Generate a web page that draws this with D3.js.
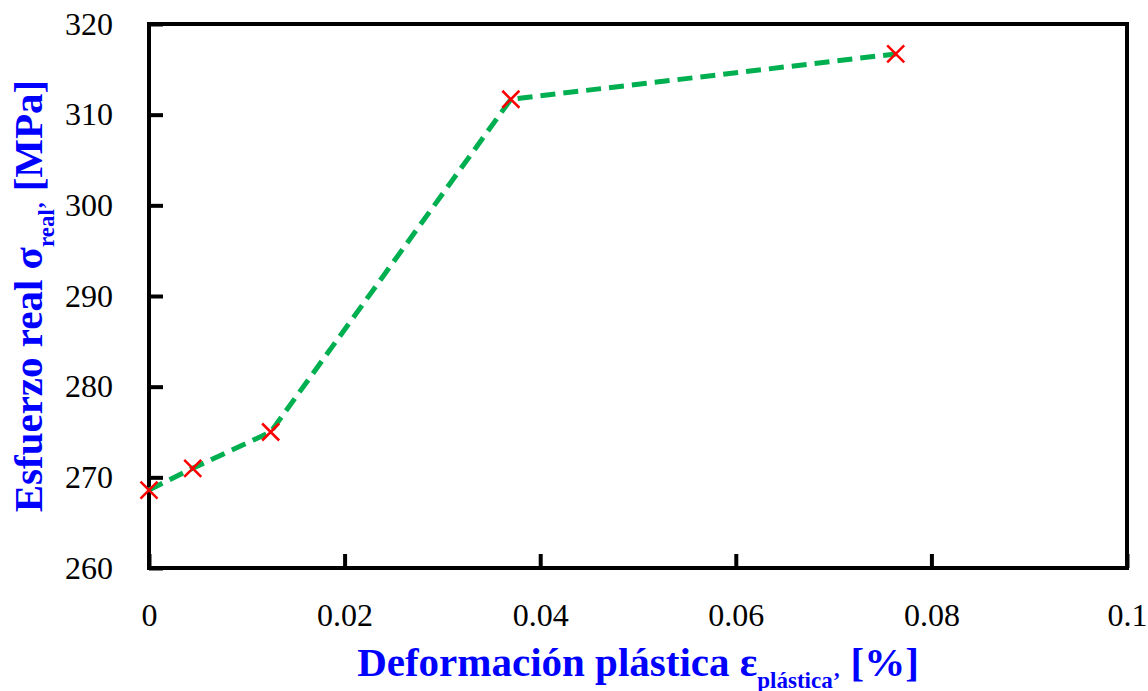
<!DOCTYPE html>
<html>
<head>
<meta charset="utf-8">
<script src="https://cdn.jsdelivr.net/npm/d3@7"></script>
<style>
  body { margin: 0; background: #fff; }
  svg { display: block; }
</style>
</head>
<body>
<div id="chart-area"></div>
<script>
// data
const strain = [0, 0.00447, 0.01244, 0.0370, 0.07635];
const stress = [268.6, 271.0, 275.0, 311.7, 316.7];

const xTicks = [0, 0.02, 0.04, 0.06, 0.08, 0.1];
const xTickLabels = ["0", "0.02", "0.04", "0.06", "0.08", "0.1"];
const yTicks = [260, 270, 280, 290, 300, 310, 320];
const yTickLabels = ["260", "270", "280", "290", "300", "310", "320"];

const width = 1148, height = 691;
const margin = { top: 24, right: 21, bottom: 123, left: 149 };
const w = width - margin.left - margin.right;
const h = height - margin.top - margin.bottom;
const font = "'Liberation Serif', 'Times New Roman', serif";

const svg = d3.select("#chart-area")
    .append("svg")
    .attr("width", width)
    .attr("height", height);

const g = svg.append("g")
    .attr("transform", `translate(${margin.left}, ${margin.top})`);

const x = d3.scaleLinear().domain([0, 0.1]).range([0, w]);
const y = d3.scaleLinear().domain([260, 320]).range([h, 0]);

// axes, ticks pointing inward
const xAxis = d3.axisBottom(x)
    .tickValues(xTicks)
    .tickFormat((d, i) => xTickLabels[i])
    .tickSizeInner(-14)
    .tickSizeOuter(0)
    .tickPadding(35);
const yAxis = d3.axisLeft(y)
    .tickValues(yTicks)
    .tickFormat((d, i) => yTickLabels[i])
    .tickSizeInner(-14)
    .tickSizeOuter(0)
    .tickPadding(36);

const xg = g.append("g").attr("transform", `translate(0, ${h})`).call(xAxis);
const yg = g.append("g").call(yAxis);

[xg, yg].forEach(a => {
    a.select(".domain").remove();
    a.selectAll(".tick line").attr("stroke", "#000").attr("stroke-width", 4);
    a.selectAll(".tick text")
        .attr("fill", "#000")
        .attr("font-family", font)
        .attr("font-size", "32px");
});

// frame
g.append("rect")
    .attr("x", 0)
    .attr("y", 0)
    .attr("width", w)
    .attr("height", h)
    .attr("fill", "none")
    .attr("stroke", "#000")
    .attr("stroke-width", 4);

const pts = strain.map((s, i) => ({ s: s, v: stress[i] }));

const line = d3.line()
    .x(d => x(d.s))
    .y(d => y(d.v));

g.append("path")
    .datum(pts)
    .attr("d", line)
    .attr("fill", "none")
    .attr("stroke", "#00B050")
    .attr("stroke-width", 5)
    .attr("stroke-dasharray", "15,8");

const m = 8.5;
g.selectAll(".mark")
    .data(pts)
    .enter()
    .append("path")
    .attr("class", "mark")
    .attr("transform", d => `translate(${x(d.s)}, ${y(d.v)})`)
    .attr("d", `M${-m},${-m}L${m},${m}M${-m},${m}L${m},${-m}`)
    .attr("stroke", "#FF0000")
    .attr("stroke-width", 2.5)
    .attr("fill", "none");

// axis titles
const xLabel = svg.append("text")
    .attr("x", margin.left + w / 2)
    .attr("y", 676)
    .attr("text-anchor", "middle")
    .attr("font-family", font)
    .attr("font-weight", "bold")
    .attr("font-size", "41px")
    .attr("fill", "#0000FF");
xLabel.append("tspan").text("Deformación plástica ε");
xLabel.append("tspan").attr("font-size", "23px").attr("dy", 12).text("plástica’");
xLabel.append("tspan").attr("dy", -12).text(" [%]");

const yLabel = svg.append("text")
    .attr("transform", `translate(42, ${margin.top + h / 2}) rotate(-90)`)
    .attr("text-anchor", "middle")
    .attr("font-family", font)
    .attr("font-weight", "bold")
    .attr("font-size", "41px")
    .attr("fill", "#0000FF");
yLabel.append("tspan").text("Esfuerzo real σ");
yLabel.append("tspan").attr("font-size", "23px").attr("dy", 12).text("real’");
yLabel.append("tspan").attr("dy", -12).text(" [MPa]");
</script>
</body>
</html>
